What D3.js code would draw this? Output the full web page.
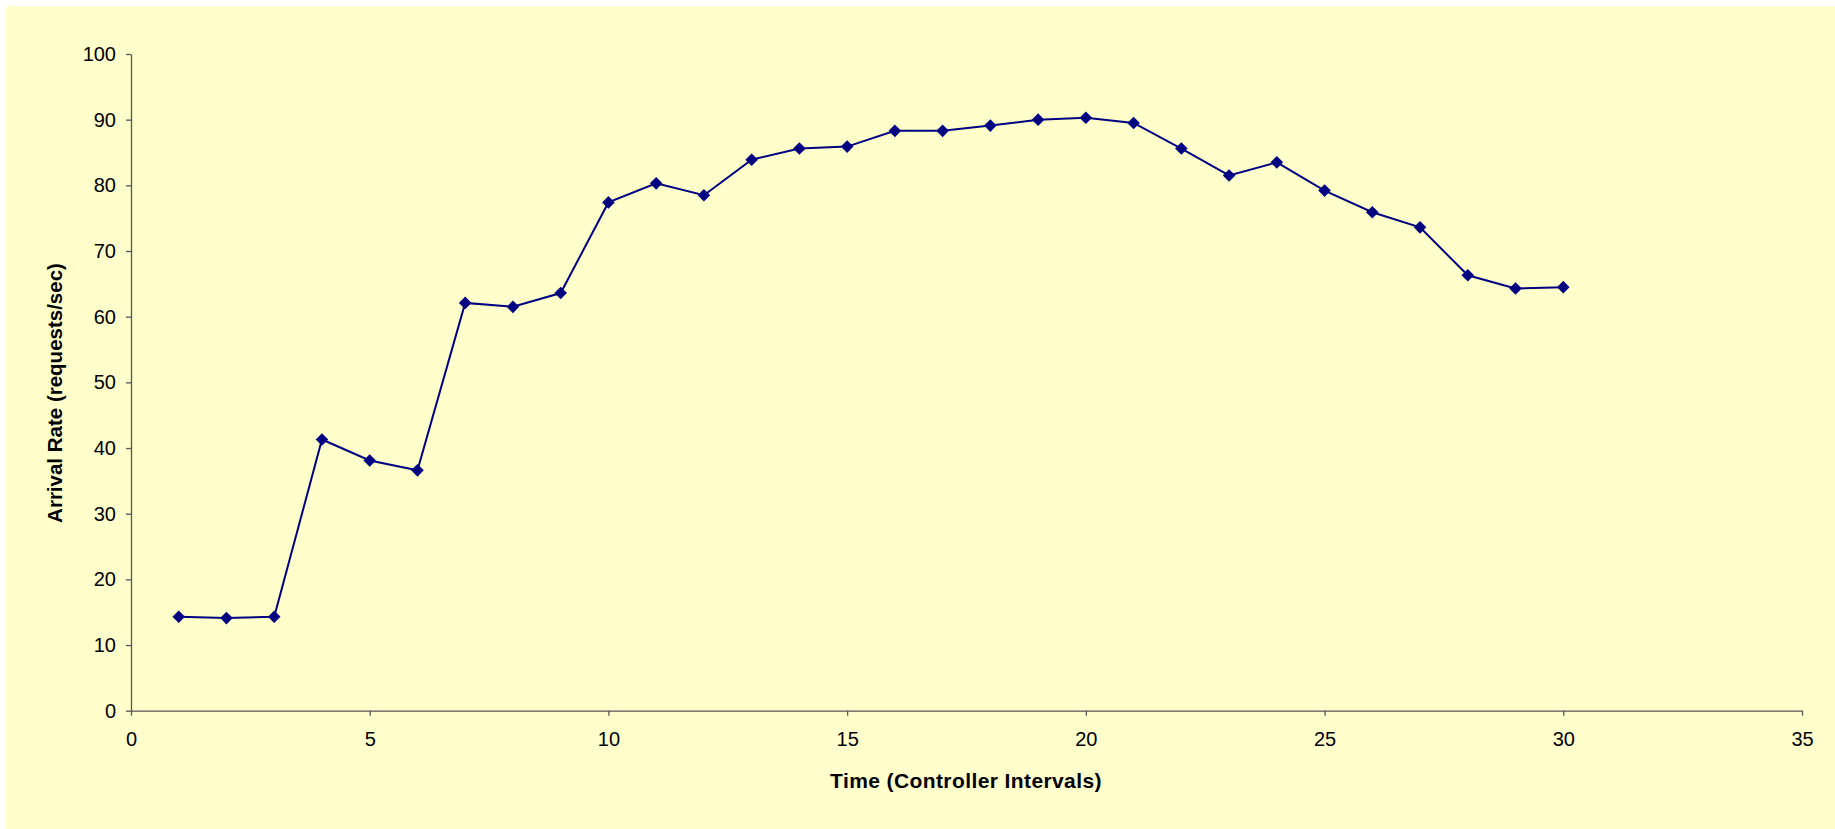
<!DOCTYPE html>
<html>
<head>
<meta charset="utf-8">
<script src="https://cdn.jsdelivr.net/npm/d3@7"></script>
<style>
  html, body { margin: 0; padding: 0; background: #ffffff; }
  svg { display: block; }
  text { font-family: "Liberation Sans", Arial, sans-serif; fill: #000; }
</style>
</head>
<body>
<svg id="chart" width="1835" height="829"></svg>
<script>
// Controller interval index and measured arrival rate (requests/sec)
const intervals = [1,2,3,4,5,6,7,8,9,10,11,12,13,14,15,16,17,18,19,20,21,22,23,24,25,26,27,28,29,30];
const arrivalRate = [14.3,14.1,14.3,41.3,38.1,36.6,62.1,61.5,63.6,77.4,80.3,78.5,83.9,85.6,85.9,88.3,88.3,89.1,90.0,90.3,89.5,85.6,81.5,83.5,79.2,75.9,73.6,66.3,64.3,64.5];
const xTicks = [0,5,10,15,20,25,30,35];
const yTicks = [0,10,20,30,40,50,60,70,80,90,100];

const svg = d3.select("#chart");

// chart area background
svg.append("rect")
  .attr("x", 6).attr("y", 6)
  .attr("width", 1829).attr("height", 823)
  .attr("fill", "#ffffcc");

const x = d3.scaleLinear().domain([0, 35]).range([131, 1802]);
const y = d3.scaleLinear().domain([0, 100]).range([710.7, 54]);

// x axis
const xAxis = svg.append("g")
  .attr("transform", `translate(0,${y(0)})`)
  .call(d3.axisBottom(x).tickValues(xTicks).tickSize(5).tickSizeOuter(0).tickPadding(16));
// y axis
const yAxis = svg.append("g")
  .attr("transform", `translate(${x(0)},0)`)
  .call(d3.axisLeft(y).tickValues(yTicks).tickSize(5).tickSizeOuter(0).tickPadding(10));

[xAxis, yAxis].forEach(g => {
  g.select(".domain").attr("stroke", "#555").attr("stroke-width", 1.3);
  g.selectAll(".tick line").attr("stroke", "#555").attr("stroke-width", 1.3);
  g.selectAll(".tick text")
    .attr("font-family", "'Liberation Sans', Arial, sans-serif")
    .attr("font-size", 20)
    .attr("fill", "#000");
});

const points = intervals.map((t, i) => ({ t, v: arrivalRate[i] }));

// series line
svg.append("path")
  .datum(points)
  .attr("fill", "none")
  .attr("stroke", "#000080")
  .attr("stroke-width", 2)
  .attr("d", d3.line().x(d => x(d.t)).y(d => y(d.v)));

// diamond markers
const h = 6.3;
svg.append("g")
  .selectAll("path")
  .data(points)
  .join("path")
  .attr("transform", d => `translate(${x(d.t)},${y(d.v)})`)
  .attr("d", `M0,${-h}L${h},0L0,${h}L${-h},0Z`)
  .attr("fill", "#000080");

// axis titles
svg.append("text")
  .attr("x", 966).attr("y", 788)
  .attr("text-anchor", "middle")
  .attr("font-size", 21)
  .attr("font-weight", "bold")
  .style("letter-spacing", "0.4px")
  .text("Time (Controller Intervals)");

svg.append("text")
  .attr("transform", "translate(62,393) rotate(-90)")
  .attr("text-anchor", "middle")
  .attr("font-size", 20.5)
  .attr("font-weight", "bold")
  .text("Arrival Rate (requests/sec)");
</script>
</body>
</html>
